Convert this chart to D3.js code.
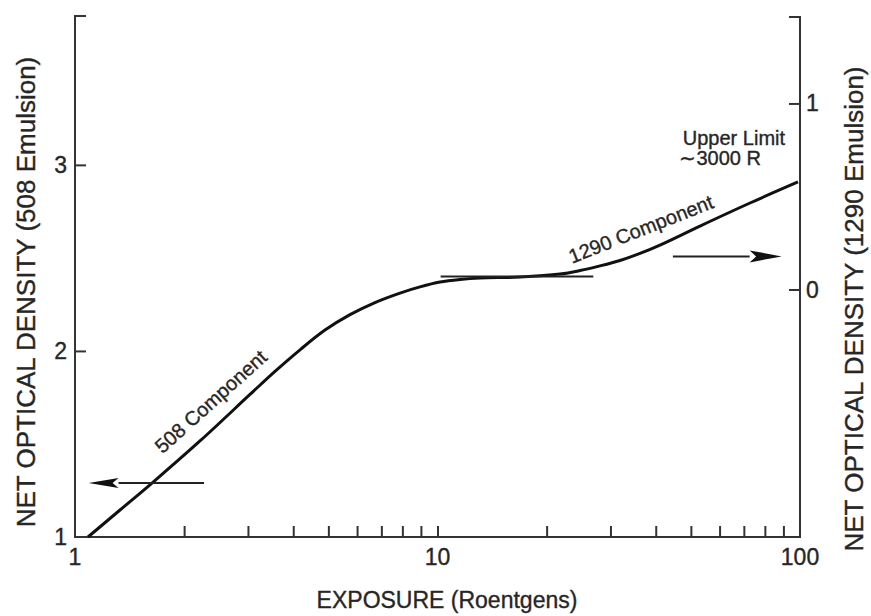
<!DOCTYPE html>
<html lang="en">
<head>
<meta charset="UTF-8">
<title>Net optical density vs exposure</title>
<script src="https://d3js.org/d3.v7.min.js"></script>
<style>
  body { margin: 0; background: #fff; font-family: "Liberation Sans", Arial, sans-serif; }
  svg text { fill: #262626; stroke: #262626; stroke-width: 0.35px; }
  .frame { stroke: #333; stroke-width: 2; fill: none; }
  .tick line { stroke: #333; stroke-width: 2; }
  .curve { stroke: #111; stroke-width: 3; fill: none; }
  .guide { stroke: #222; stroke-width: 2; fill: none; }
  .tick-label { font-size: 23px; }
  .axis-title { font-size: 23px; }
  .y-title { font-size: 26px; }
  .note { font-size: 20px; }
</style>
</head>
<body>
<svg id="chart" width="871" height="616"></svg>
<script>
// curve: exposure (R) vs density on the 508 (left) scale
const exposure   = [1.086, 1.331, 1.631, 2.212, 3.039, 3.562, 4.176, 4.894, 5.737, 6.723, 7.881, 8.949, 10.16,
                    11.54, 13.10, 16.89, 21.77, 24.72, 28.07, 31.87, 36.20, 41.09, 52.98, 72.79, 98.74];
const density508 = [1.000, 1.145, 1.290, 1.516, 1.766, 1.890, 2.006, 2.112, 2.195, 2.260, 2.311, 2.344, 2.370,
                    2.384, 2.392, 2.397, 2.413, 2.432, 2.457, 2.486, 2.524, 2.569, 2.671, 2.795, 2.908];

const xTickValues = [2, 3, 4, 5, 6, 7, 8, 9, 10, 20, 30, 40, 50, 60, 70, 80, 90];
const xLabelValues = [1, 10, 100];
const leftTickValues = [2, 3];
const leftLabelValues = [1, 2, 3];
const rightTickValues = [0, 1];

// annotation lines (data units)
const tangentX = [10.2, 26.9], tangentY = 2.40;         // left scale
const leftArrowX = [2.27, 1.09], leftArrowY = 1.29;      // left scale
const rightArrowX = [44.6, 89], rightArrowY = 0.178;     // right scale

const svg = d3.select("#chart");

const x = d3.scaleLog().domain([1, 100]).range([75, 800]);
const yLeft = d3.scaleLinear().domain([1, 3.8]).range([537, 16]);
const yRight = d3.scaleLinear().domain([-1.33, 1.47]).range([537, 16]);

// bottom ticks point up into the plot
svg.append("g")
    .attr("transform", `translate(0,${yLeft(1)})`)
    .call(d3.axisBottom(x).tickValues(xTickValues).tickSize(-11).tickFormat(""))
    .call(g => g.select(".domain").remove());

svg.append("g")
    .attr("transform", `translate(${x(1)},0)`)
    .call(d3.axisLeft(yLeft).tickValues(leftTickValues).tickSize(-11).tickFormat(""))
    .call(g => g.select(".domain").remove());

svg.append("g")
    .attr("transform", `translate(${x(100)},0)`)
    .call(d3.axisRight(yRight).tickValues(rightTickValues).tickSize(-11).tickFormat(""))
    .call(g => g.select(".domain").remove());

// frame: open at the top, with little hooks
const frameTop = 16, frameBottom = yLeft(1);
svg.append("path").attr("class", "frame")
    .attr("d", `M${x(1) + 11},${frameTop} H${x(1)} V${frameBottom} H${x(100)} V${frameTop + 1} H${x(100) - 11}`);

// tick labels
svg.selectAll(".xl").data(xLabelValues).enter().append("text")
    .attr("class", "tick-label")
    .attr("x", d => x(d)).attr("y", 565)
    .attr("text-anchor", "middle")
    .text(d => d);

svg.selectAll(".yl").data(leftLabelValues).enter().append("text")
    .attr("class", "tick-label")
    .attr("x", x(1) - 8).attr("y", d => yLeft(d) + 8)
    .attr("text-anchor", "end")
    .text(d => d);

svg.selectAll(".yr").data(rightTickValues).enter().append("text")
    .attr("class", "tick-label")
    .attr("x", x(100) + 6).attr("y", d => yRight(d) + 8)
    .text(d => d);

// axis titles
svg.append("text").attr("class", "axis-title")
    .attr("x", 447).attr("y", 608).attr("text-anchor", "middle")
    .text("EXPOSURE (Roentgens)");

svg.append("text").attr("class", "y-title")
    .attr("transform", "translate(35,292) rotate(-90)")
    .attr("text-anchor", "middle")
    .text("NET OPTICAL DENSITY (508 Emulsion)");

svg.append("text").attr("class", "y-title")
    .attr("transform", "translate(863,309) rotate(-90)")
    .attr("text-anchor", "middle")
    .text("NET OPTICAL DENSITY (1290 Emulsion)");

// the curve
const pts = exposure.map((e, i) => [x(e), yLeft(density508[i])]);
svg.append("path").attr("class", "curve")
    .attr("d", d3.line().curve(d3.curveCatmullRom)(pts));

// tangent line at the plateau
svg.append("line").attr("class", "guide")
    .attr("x1", x(tangentX[0])).attr("x2", x(tangentX[1]))
    .attr("y1", yLeft(tangentY)).attr("y2", yLeft(tangentY));

// arrows
function arrow(x0, x1, yy, headLen, halfW) {
    const dir = Math.sign(x1 - x0);
    svg.append("line").attr("class", "guide")
        .attr("x1", x0).attr("x2", x1 - dir * headLen).attr("y1", yy).attr("y2", yy);
    svg.append("path").attr("fill", "#111")
        .attr("d", `M${x1},${yy} L${x1 - dir * headLen},${yy - halfW} L${x1 - dir * headLen * 0.8},${yy} L${x1 - dir * headLen},${yy + halfW} Z`);
}
arrow(x(leftArrowX[0]), x(leftArrowX[1]), yLeft(leftArrowY), 30, 5);
arrow(x(rightArrowX[0]), x(rightArrowX[1]), yRight(rightArrowY), 32, 6);

// labels on the curve
svg.append("text").attr("class", "note")
    .attr("text-anchor", "middle")
    .attr("transform", `translate(${x(2.44)},${yLeft(1.70)}) rotate(-42)`)
    .text("508 Component");

svg.append("text").attr("class", "note")
    .attr("text-anchor", "middle")
    .attr("transform", `translate(${x(37)},${yLeft(2.62)}) rotate(-21.5)`)
    .text("1290 Component");

svg.append("text").attr("class", "note")
    .attr("x", x(47.5)).attr("y", yLeft(3.108))
    .text("Upper Limit");
svg.append("text").attr("class", "note")
    .attr("x", x(46.5)).attr("y", yLeft(3.0))
    .text("\u223C3000 R");
</script>
</body>
</html>
